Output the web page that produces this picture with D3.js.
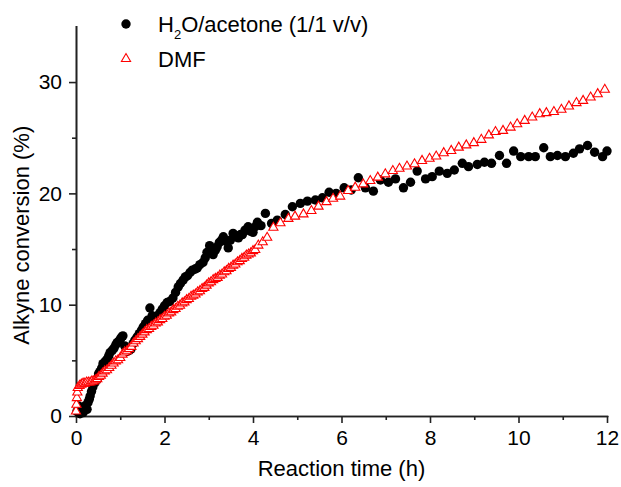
<!DOCTYPE html>
<html>
<head>
<meta charset="utf-8">
<script src="https://cdn.jsdelivr.net/npm/d3@7.9.0/dist/d3.min.js"></script>
<style>
  body { margin: 0; background: #fff; }
  svg { display: block; font-family: "Liberation Sans", Arial, sans-serif; }
  .axis path, .axis line { stroke: #222; stroke-width: 1.6; }
  .axis text { font-size: 21px; fill: #000; }
</style>
</head>
<body>
<svg width="621" height="487"></svg>
<script>
// H2O/acetone (1/1 v/v) run
const waterTime = [0.02, 0.06, 0.09, 0.13, 0.16, 0.2, 0.25, 0.27, 0.3, 0.32, 0.35, 0.38, 0.43, 0.48, 0.51, 0.54, 0.58, 0.61, 0.66, 0.7,
  0.74, 0.77, 0.82, 0.86, 0.9, 0.93, 0.97, 1.0, 1.03, 1.06, 1.1, 1.15, 1.2, 1.24, 1.29, 1.33, 1.38, 1.43, 1.48, 1.52,
  1.57, 1.62, 1.67, 1.72, 1.76, 1.79, 1.84, 1.9, 1.95, 2.0, 2.06, 2.12, 2.19, 2.25, 2.31, 2.36, 2.42, 2.47, 2.52, 2.58,
  2.63, 2.69, 2.74, 2.8, 2.87, 2.92, 2.96, 3.02, 3.06, 3.1, 3.15, 3.19, 3.24, 3.29, 3.33, 3.38, 3.44, 3.49, 3.55, 3.61,
  3.67, 3.72, 3.76, 3.82, 3.89, 3.94, 4.0, 4.05, 4.1, 4.18, 4.28, 4.42, 4.55, 4.73, 4.89, 5.07, 5.23, 5.41, 5.57, 5.72,
  5.88, 6.06, 6.22, 6.38, 6.54, 6.72, 6.88, 7.06, 7.22, 7.4, 7.56, 7.71, 7.9, 8.05, 8.21, 8.39, 8.55, 8.73, 8.87, 9.07,
  9.23, 9.39, 9.57, 9.73, 9.89, 10.05, 10.23, 10.38, 10.57, 10.72, 10.88, 11.06, 11.24, 11.38, 11.56, 11.72, 11.9, 12.0];
const waterConv = [0.4, 0.9, 0.2, 0.6, 0.3, 0.9, 0.6, 1.2, 1.5, 1.8, 2.2, 2.6, 3.0, 3.3, 3.8, 4.0, 4.3, 4.7, 4.9, 5.1,
  5.4, 5.7, 5.9, 6.1, 6.4, 6.6, 6.7, 6.9, 7.1, 7.2, 6.3, 5.8, 5.9, 6.0, 6.5, 6.8, 7.1, 7.4, 7.7, 8.0,
  8.3, 8.6, 9.7, 9.0, 8.7, 8.8, 9.0, 9.3, 9.6, 9.9, 10.2, 10.3, 10.6, 11.1, 11.6, 11.9, 12.2, 12.5, 12.6, 12.9,
  13.1, 13.2, 13.3, 13.6, 13.8, 14.2, 14.7, 15.3, 14.6, 14.5, 14.9, 15.2, 15.6, 15.8, 16.1, 15.7, 15.1, 15.8, 16.4, 16.2,
  16.0, 16.3, 16.3, 16.7, 17.0, 16.6, 16.5, 17.0, 17.4, 17.1, 18.2, 17.3, 17.6, 18.1, 18.8, 19.1, 19.3, 19.4, 19.6, 20.1,
  20.0, 20.5, 20.3, 21.4, 20.5, 20.2, 21.2, 21.0, 21.3, 20.5, 21.0, 22.0, 21.3, 21.5, 22.0, 21.8, 22.1, 22.7, 22.4, 22.6,
  22.8, 22.7, 23.4, 22.7, 23.8, 23.3, 23.3, 23.3, 24.1, 23.3, 23.4, 23.3, 23.6, 24.0, 24.3, 23.7, 23.3, 23.8];

// DMF run
const dmfTime = [0, 0.01, 0.02, 0.03, 0.04, 0.08, 0.12, 0.16, 0.2, 0.24, 0.28, 0.32, 0.36, 0.4, 0.44, 0.48, 0.52, 0.56, 0.6, 0.65,
  0.7, 0.75, 0.8, 0.85, 0.9, 0.95, 1.0, 1.05, 1.1, 1.15, 1.2, 1.25, 1.3, 1.35, 1.4, 1.45, 1.5, 1.55, 1.6, 1.65,
  1.7, 1.75, 1.8, 1.85, 1.9, 1.95, 2.0, 2.05, 2.1, 2.15, 2.2, 2.25, 2.3, 2.35, 2.4, 2.45, 2.5, 2.55, 2.6, 2.65,
  2.7, 2.75, 2.8, 2.85, 2.9, 2.95, 3.0, 3.05, 3.1, 3.15, 3.2, 3.25, 3.3, 3.35, 3.4, 3.45, 3.5, 3.55, 3.6, 3.65,
  3.7, 3.75, 3.8, 3.85, 3.9, 3.95, 4.0, 4.05, 4.12, 4.22, 4.32, 4.46, 4.62, 4.8, 4.95, 5.14, 5.32, 5.48, 5.66, 5.81,
  5.97, 6.15, 6.31, 6.49, 6.65, 6.82, 6.99, 7.16, 7.31, 7.48, 7.65, 7.82, 7.99, 8.14, 8.31, 8.48, 8.65, 8.82, 8.99, 9.16,
  9.33, 9.48, 9.65, 9.82, 9.97, 10.14, 10.31, 10.48, 10.63, 10.8, 10.97, 11.14, 11.31, 11.46, 11.63, 11.79, 11.95];
const dmfConv = [0.5, 1.1, 1.7, 2.2, 2.6, 2.8, 2.9, 3.0, 3.0, 3.1, 3.1, 3.1, 3.2, 3.2, 3.3, 3.4, 3.6, 3.7, 3.9, 4.1,
  4.2, 4.4, 4.6, 4.8, 5.0, 5.1, 5.3, 5.6, 5.8, 5.9, 6.1, 6.3, 6.6, 6.8, 7.0, 7.2, 7.4, 7.6, 7.8, 7.9,
  8.1, 8.2, 8.4, 8.5, 8.7, 8.8, 9.0, 9.1, 9.3, 9.4, 9.6, 9.7, 9.9, 10.0, 10.2, 10.3, 10.5, 10.6, 10.8, 10.9,
  11.0, 11.2, 11.3, 11.5, 11.6, 11.8, 12.0, 12.1, 12.3, 12.4, 12.5, 12.7, 12.8, 13.0, 13.1, 13.3, 13.4, 13.6, 13.7, 13.9,
  14.0, 14.2, 14.3, 14.5, 14.6, 14.7, 14.9, 15.0, 15.4, 15.7, 16.1, 17.0, 17.4, 17.8, 18.0, 18.2, 18.5, 18.9, 19.3, 19.6,
  19.8, 20.3, 20.6, 20.9, 21.2, 21.5, 21.8, 22.1, 22.3, 22.5, 22.7, 23.0, 23.2, 23.4, 23.7, 23.9, 24.2, 24.4, 24.6, 24.9,
  25.3, 25.6, 25.7, 26.0, 26.3, 26.6, 26.9, 27.2, 27.3, 27.4, 27.6, 27.9, 28.2, 28.4, 28.7, 29.0, 29.4];

const xMajor = [0, 2, 4, 6, 8, 10, 12];
const xMinor = [1, 3, 5, 7, 9, 11];
const yMajor = [0, 10, 20, 30];
const yMinor = [5, 15, 25];

const svg = d3.select('svg');

const x = d3.scaleLinear().domain([0, 12]).range([76, 607]);
const y = d3.scaleLinear().domain([0, 35]).range([416, 26.4]);

// axes
svg.append('g')
  .attr('class', 'axis')
  .attr('transform', `translate(0,${y(0)})`)
  .call(d3.axisBottom(x).tickValues(xMinor).tickSize(4).tickSizeOuter(0).tickFormat(''));
svg.append('g')
  .attr('class', 'axis')
  .attr('transform', `translate(0,${y(0)})`)
  .call(d3.axisBottom(x).tickValues(xMajor).tickSize(7).tickSizeOuter(0).tickPadding(7));

svg.append('g')
  .attr('class', 'axis')
  .attr('transform', `translate(${x(0)},0)`)
  .call(d3.axisLeft(y).tickValues(yMinor).tickSize(4).tickSizeOuter(0).tickFormat(''));
svg.append('g')
  .attr('class', 'axis')
  .attr('transform', `translate(${x(0)},0)`)
  .call(d3.axisLeft(y).tickValues(yMajor).tickSize(7).tickSizeOuter(0).tickPadding(7));

svg.selectAll('.axis path.domain').attr('stroke-linecap', 'square');

// axis titles
svg.append('text')
  .attr('x', x(6))
  .attr('y', 476)
  .attr('text-anchor', 'middle')
  .attr('font-size', 22)
  .text('Reaction time (h)');

svg.append('text')
  .attr('transform', `translate(29,${(y(0) + y(35)) / 2 + 14}) rotate(-90)`)
  .attr('text-anchor', 'middle')
  .attr('font-size', 22)
  .text('Alkyne conversion (%)');

// triangle marker
const tri = (cx, cy) => `M${cx - 4.6},${cy + 3.5}L${cx + 4.6},${cy + 3.5}L${cx},${cy - 4.5}Z`;

const waterData = waterTime.map((t, i) => ({ t, v: waterConv[i] }));
const dmfData = dmfTime.map((t, i) => ({ t, v: dmfConv[i] }));

svg.append('g')
  .selectAll('circle')
  .data(waterData)
  .join('circle')
  .attr('cx', d => x(d.t))
  .attr('cy', d => y(d.v))
  .attr('r', 4.7)
  .attr('fill', '#000');

svg.append('g')
  .selectAll('path')
  .data(dmfData)
  .join('path')
  .attr('d', d => tri(x(d.t), y(d.v)))
  .attr('fill', '#fff')
  .attr('stroke', '#ff0000')
  .attr('stroke-width', 1.1);

// legend
const legend = svg.append('g');
legend.append('circle').attr('cx', 126).attr('cy', 24).attr('r', 4.7).attr('fill', '#000');
let t1 = legend.append('text').attr('x', 158).attr('y', 32).attr('font-size', 22);
t1.append('tspan').text('H');
t1.append('tspan').attr('font-size', 13).attr('dy', 7).text('2');
t1.append('tspan').attr('dy', -7).text('O/acetone (1/1 v/v)');

legend.append('path').attr('d', tri(126, 58)).attr('fill', '#fff').attr('stroke', '#ff0000').attr('stroke-width', 1.1);
legend.append('text').attr('x', 158).attr('y', 67).attr('font-size', 22).text('DMF');
</script>
</body>
</html>
